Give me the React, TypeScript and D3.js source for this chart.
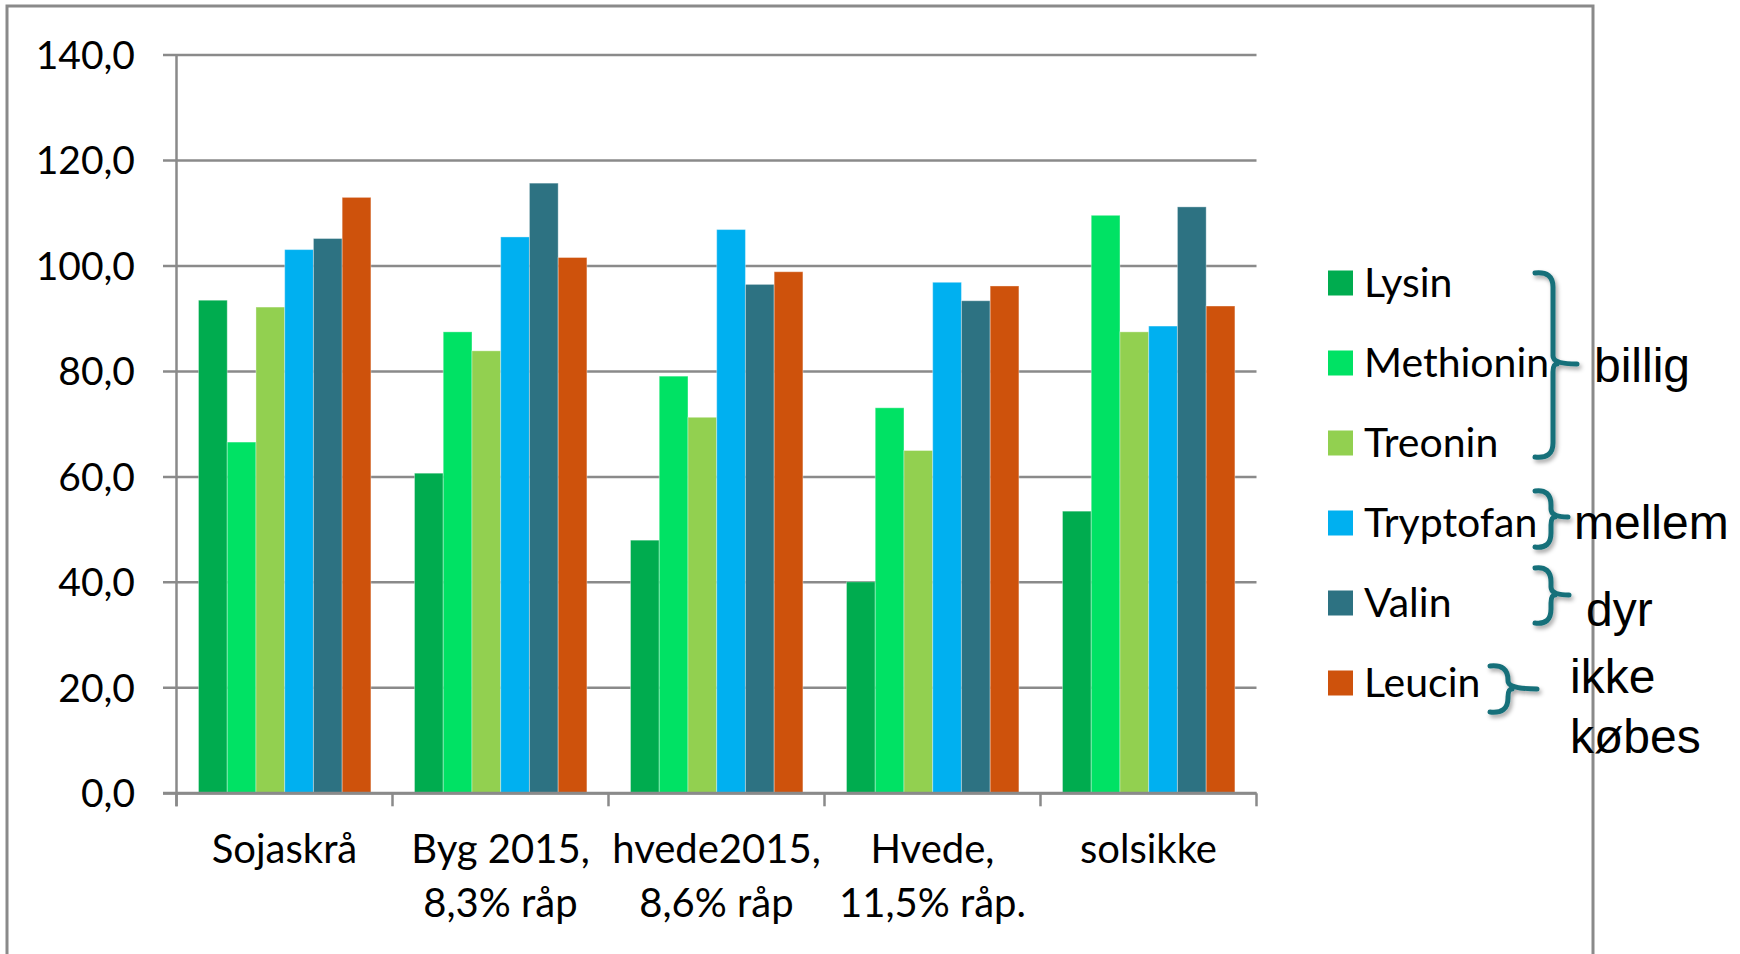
import React, { useEffect, useRef } from "react";
import * as d3 from "d3";

const categories: string[][] = [
  ["Sojaskrå"],
  ["Byg 2015,", "8,3% råp"],
  ["hvede2015,", "8,6% råp"],
  ["Hvede,", "11,5% råp."],
  ["solsikke"],
];
const seriesNames = ["Lysin", "Methionin", "Treonin", "Tryptofan", "Valin", "Leucin"];
const seriesColors = ["#00AC4F", "#00E264", "#92D050", "#00B0F0", "#2D7282", "#CE520C"];
const lysin = [93.5, 60.7, 48.0, 40.1, 53.5];
const methionin = [66.6, 87.5, 79.1, 73.1, 109.6];
const treonin = [92.2, 83.9, 71.3, 65.0, 87.5];
const tryptofan = [103.1, 105.5, 106.9, 96.9, 88.6];
const valin = [105.2, 115.7, 96.5, 93.4, 111.2];
const leucin = [113.0, 101.6, 98.9, 96.2, 92.4];
const yTicks = [0, 20, 40, 60, 80, 100, 120, 140];
const groupLabels = ["billig", "mellem", "dyr", "ikke købes"];

export default function App() {
  const ref = useRef<SVGSVGElement>(null);

  useEffect(() => {
    const svg = d3.select(ref.current);
    svg.selectAll("*").remove();
    const W = 1740, H = 954;
    const left = 176.5, right = 1256.5, top = 55, bottom = 793.3;
    const font = "Lato, 'Open Sans', sans-serif";
    const grid = "#8a8a8a";

    const defs = svg.append("defs");
    const f = defs.append("filter").attr("id", "sh").attr("x", "-50%").attr("y", "-50%").attr("width", "200%").attr("height", "200%");
    f.append("feDropShadow").attr("dx", 2).attr("dy", 3).attr("stdDeviation", 2).attr("flood-color", "#000").attr("flood-opacity", 0.35);

    svg.append("rect").attr("width", W).attr("height", H).attr("fill", "#fff");
    svg.append("path").attr("d", `M7,${H + 10} L7,6 L1593,6 L1593,${H + 10}`)
      .attr("fill", "none").attr("stroke", grid).attr("stroke-width", 3);

    const y = d3.scaleLinear().domain([0, 140]).range([bottom, top]);
    const x0 = d3.scaleBand<number>().domain(d3.range(categories.length)).range([left, right]).padding(0);
    const x1 = d3.scaleBand<number>().domain(d3.range(seriesNames.length))
      .range([22, x0.bandwidth() - 21.6]).padding(0);

    const g = svg.append("g");
    yTicks.forEach((t) => {
      g.append("line").attr("x1", 163).attr("x2", right).attr("y1", y(t)).attr("y2", y(t))
        .attr("stroke", grid).attr("stroke-width", 2.5);
      g.append("text").attr("x", 135).attr("y", y(t) + 14).attr("text-anchor", "end")
        .attr("font-family", font).attr("font-size", 39).attr("fill", "#000")
        .text(d3.format(".1f")(t).replace(".", ","));
    });

    const data = [lysin, methionin, treonin, tryptofan, valin, leucin];
    categories.forEach((_, ci) => {
      data.forEach((vals, si) => {
        const v = vals[ci];
        svg.append("rect")
          .attr("x", x0(ci)! + x1(si)!)
          .attr("y", y(v))
          .attr("width", x1.bandwidth())
          .attr("height", bottom - y(v))
          .attr("fill", seriesColors[si])
          .attr("stroke", "rgba(255,255,255,0.35)")
          .attr("stroke-width", 1);
      });
    });

    svg.append("line").attr("x1", left).attr("x2", left).attr("y1", top).attr("y2", bottom + 13)
      .attr("stroke", grid).attr("stroke-width", 2.5);
    svg.append("line").attr("x1", 163).attr("x2", right).attr("y1", bottom).attr("y2", bottom)
      .attr("stroke", grid).attr("stroke-width", 3);
    d3.range(categories.length + 1).forEach((i) => {
      const xx = left + i * x0.bandwidth();
      svg.append("line").attr("x1", xx).attr("x2", xx).attr("y1", bottom).attr("y2", bottom + 13)
        .attr("stroke", grid).attr("stroke-width", 2.5);
    });

    categories.forEach((lines, ci) => {
      const cx = x0(ci)! + x0.bandwidth() / 2;
      lines.forEach((ln, li) => {
        svg.append("text").attr("x", cx).attr("y", 863 + li * 54).attr("text-anchor", "middle")
          .attr("font-family", font).attr("font-size", 40).attr("fill", "#000").text(ln);
      });
    });

    seriesNames.forEach((name, i) => {
      const cy = 283 + i * 80;
      svg.append("rect").attr("x", 1328).attr("y", cy - 12.5).attr("width", 25).attr("height", 25)
        .attr("fill", seriesColors[i]);
      svg.append("text").attr("x", 1364).attr("y", cy + 14).attr("font-family", font)
        .attr("font-size", 41).attr("fill", "#000").text(name);
    });

    const brace = (x0b: number, xv: number, xt: number, y0: number, ym: number, y1: number) => {
      const r = 14;
      const r2 = 8;
      return `M${x0b},${y0} Q${xv},${y0 - 2} ${xv},${y0 + r} L${xv},${ym - r2} Q${xv},${ym} ${xt},${ym} ` +
        `M${xv + 4},${ym} Q${xv},${ym} ${xv},${ym + r2} L${xv},${y1 - r} Q${xv},${y1 + 2} ${x0b},${y1}`;
    };
    const braces = [
      [1535, 1553, 1577, 273, 364, 457],
      [1535, 1551, 1568, 491, 517, 547],
      [1535, 1551, 1569, 568, 595, 623],
      [1490, 1508, 1537, 666, 689, 712],
    ];
    braces.forEach((b) => {
      svg.append("path").attr("d", brace(b[0], b[1], b[2], b[3], b[4], b[5]))
        .attr("fill", "none").attr("stroke", "#17707A").attr("stroke-width", 5)
        .attr("stroke-linecap", "round").attr("filter", "url(#sh)");
    });

    const arial = "'Liberation Sans', Arial, sans-serif";
    const labelPos = [[1602 - 8, 382], [1582 - 8, 539], [1594 - 8, 626], [1578 - 8, 693]];
    groupLabels.forEach((lab, i) => {
      const t = svg.append("text").attr("x", labelPos[i][0]).attr("y", labelPos[i][1])
        .attr("font-family", arial).attr("font-size", 48).attr("fill", "#000");
      const parts = lab.split(" ");
      parts.forEach((p, pi) => {
        t.append("tspan").attr("x", labelPos[i][0]).attr("dy", pi === 0 ? 0 : 60).text(p);
      });
    });
  }, []);

  return (
    <div style={{ position: "absolute", left: 0, top: 0 }}>
      <svg ref={ref} width={1740} height={954} style={{ display: "block" }} />
    </div>
  );
}
